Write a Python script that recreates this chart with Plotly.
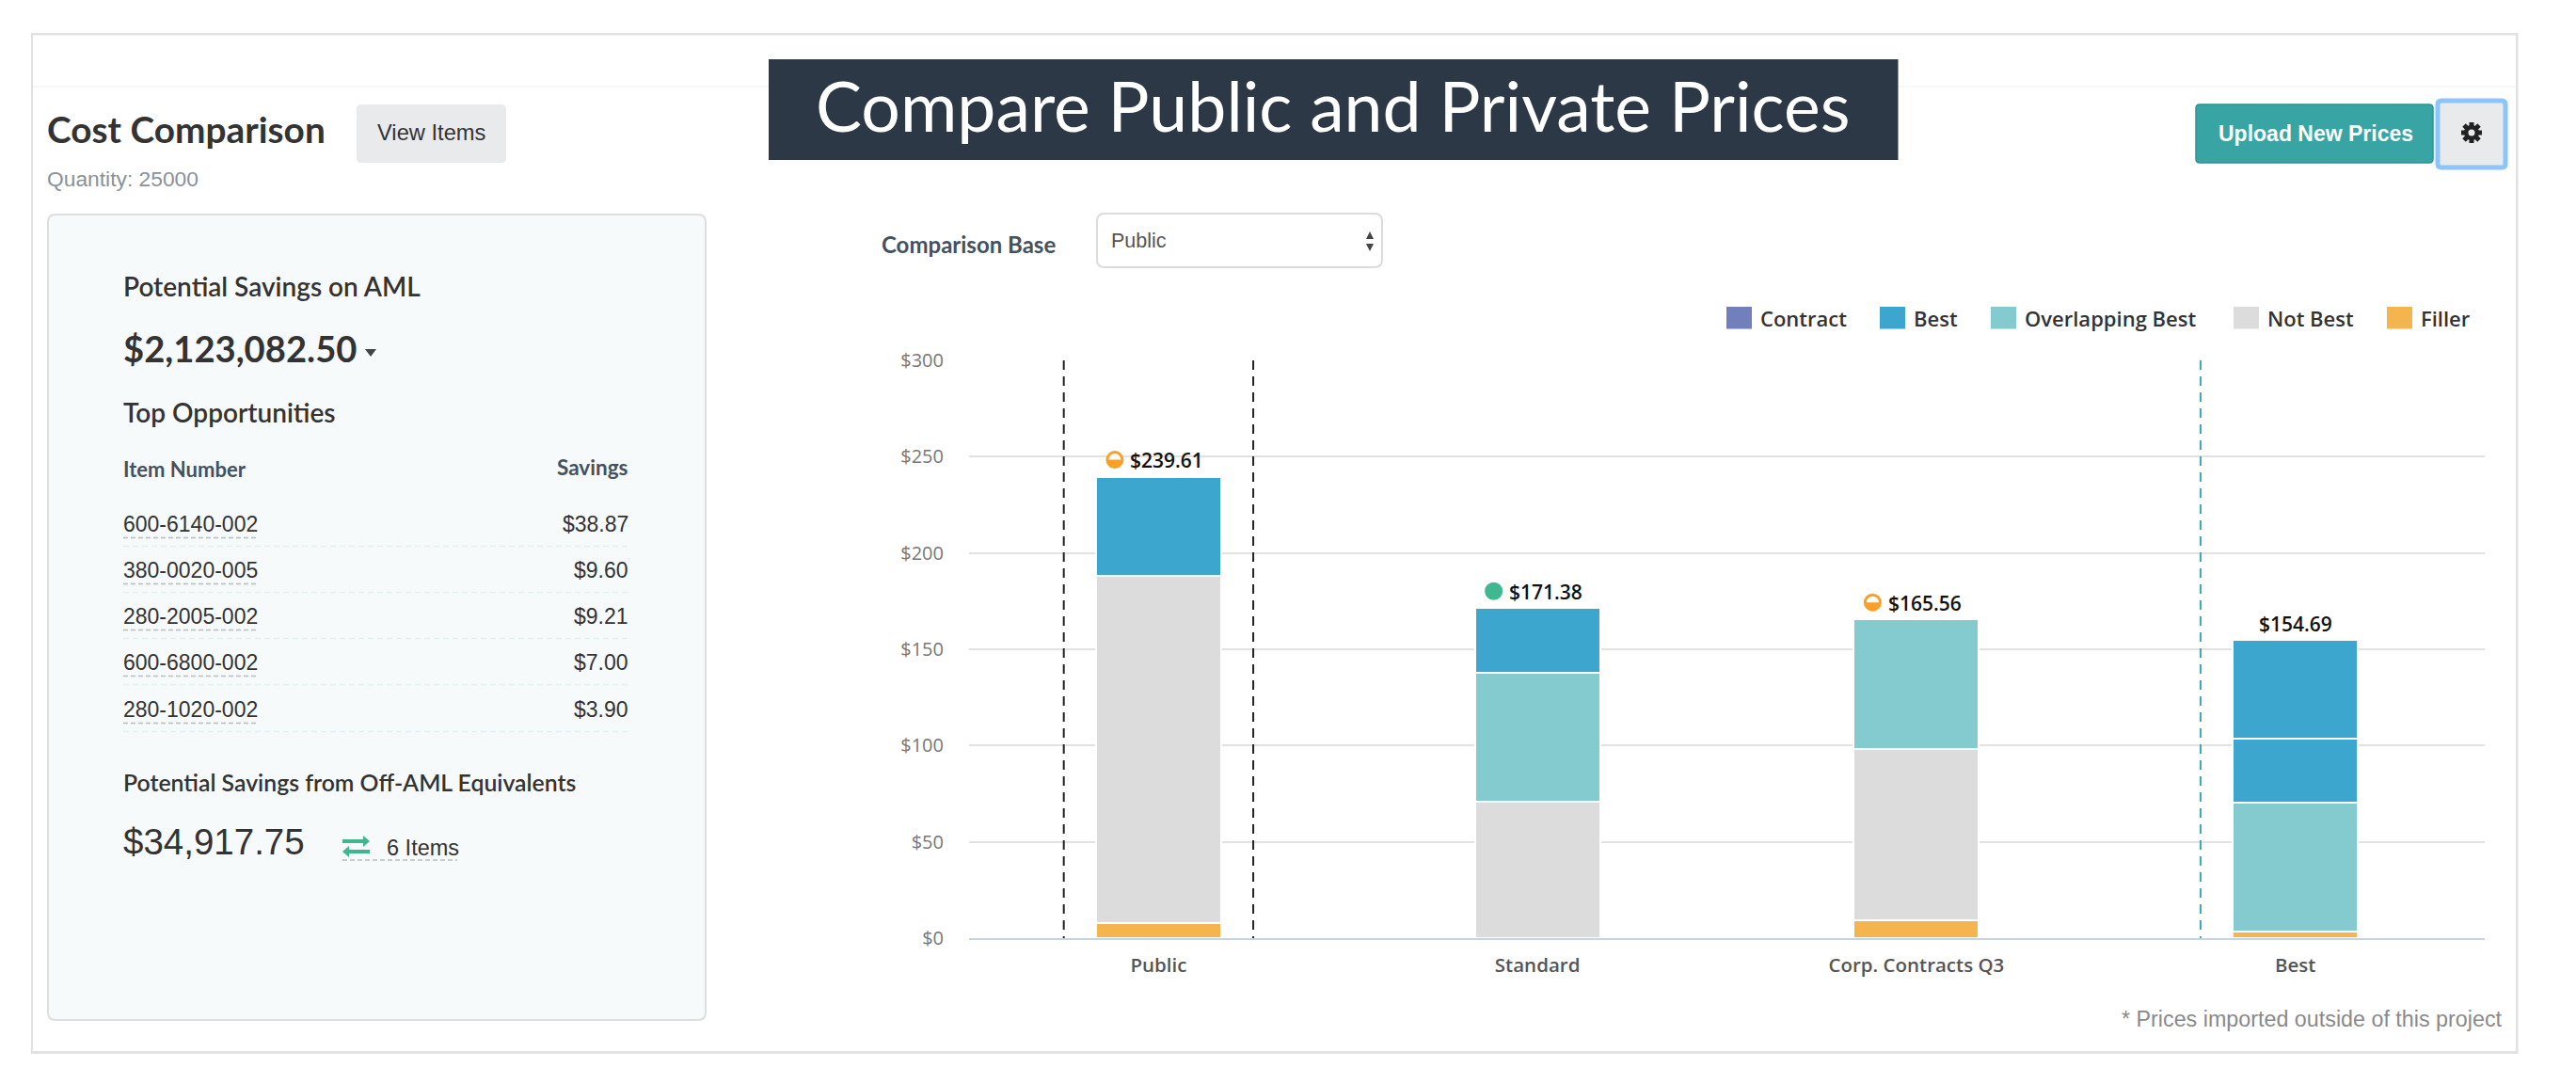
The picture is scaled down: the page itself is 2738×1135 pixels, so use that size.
import plotly.graph_objects as go

# ---- data ----
categories = ["Public", "Standard", "Corp. Contracts Q3", "Best"]
contract = [0, 0, 0, 0]
filler = [7.6, 0, 9.4, 3.6]
not_best = [180.4, 70.8, 88.6, 0]
overlapping_best = [0, 67.0, 67.56, 67.0]
best_lower = [51.61, 33.58, 0, 33.1]
best_upper = [0, 0, 0, 50.99]
total_labels = ["$239.61", "$171.38", "$165.56", "$154.69"]
totals = [239.61, 171.38, 165.56, 154.69]
status = ["half", "full", "half", None]
y_ticks = [0, 50, 100, 150, 200, 250, 300]
y_tick_labels = ["$0", "$50", "$100", "$150", "$200", "$250", "$300"]
legend_names = ["Contract", "Best", "Overlapping Best", "Not Best", "Filler"]
item_numbers = ["600-6140-002", "380-0020-005", "280-2005-002", "600-6800-002", "280-1020-002"]
item_savings = ["$38.87", "$9.60", "$9.21", "$7.00", "$3.90"]

# ---- style ----
C_CONTRACT, C_BEST, C_OVER, C_NOT, C_FILL = "#717fbd", "#3da6cf", "#83cbcf", "#dcdcdc", "#f5b54e"
W, H = 2738, 1135
PL, PR, PT, PB = 1030, 2641, 383, 997
LATO, ARIAL, OPEN = "Lato", "Liberation Sans", "Open Sans"
DARK = "#333333"


def px(x):
    return (x - PL) / (PR - PL)


def py(y):
    return (PB - y) / (PB - PT)


shapes, annos = [], []


def rect(x0, y0, x1, y1, fill, line=None, lw=1, layer="below"):
    shapes.append(dict(type="rect", xref="paper", yref="paper", x0=px(x0), x1=px(x1), y0=py(y0), y1=py(y1),
                       fillcolor=fill, line=dict(color=line or fill, width=lw if line else 0), layer=layer))


def rrect(x0, y0, x1, y1, r, fill, line=None, lw=1, layer="below"):
    p = (f"M{px(x0+r)},{py(y0)} L{px(x1-r)},{py(y0)} Q{px(x1)},{py(y0)} {px(x1)},{py(y0+r)} "
         f"L{px(x1)},{py(y1-r)} Q{px(x1)},{py(y1)} {px(x1-r)},{py(y1)} L{px(x0+r)},{py(y1)} "
         f"Q{px(x0)},{py(y1)} {px(x0)},{py(y1-r)} L{px(x0)},{py(y0+r)} Q{px(x0)},{py(y0)} {px(x0+r)},{py(y0)} Z")
    shapes.append(dict(type="path", xref="paper", yref="paper", path=p, fillcolor=fill,
                       line=dict(color=line or fill, width=lw if line else 0), layer=layer))


def hline(x0, x1, y, color, width=1.5, dash="solid", layer="below"):
    shapes.append(dict(type="line", xref="paper", yref="paper", x0=px(x0), x1=px(x1), y0=py(y), y1=py(y),
                       line=dict(color=color, width=width, dash=dash), layer=layer))


def seg(x0, y0, x1, y1, color, width):
    shapes.append(dict(type="line", xref="paper", yref="paper", x0=px(x0), x1=px(x1), y0=py(y0), y1=py(y1),
                       line=dict(color=color, width=width), layer="above"))


def disc(cx, cy, r, fill):
    shapes.append(dict(type="circle", xref="paper", yref="paper", x0=px(cx - r), x1=px(cx + r), y0=py(cy - r),
                       y1=py(cy + r), fillcolor=fill, line=dict(width=0), layer="above"))


def poly(pts, fill, layer="above"):
    p = "M" + " L".join(f"{px(a)},{py(b)}" for a, b in pts) + " Z"
    shapes.append(dict(type="path", xref="paper", yref="paper", path=p, fillcolor=fill, line=dict(width=0), layer=layer))


def text(x, y, s, size, color=DARK, family=LATO, anchor="left", weight=None):
    f = dict(size=size, color=color, family=family)
    if weight:
        f["weight"] = weight
    annos.append(dict(xref="paper", yref="paper", x=px(x), y=py(y), text=s, showarrow=False, xanchor=anchor,
                      yanchor="middle", font=f, borderpad=0, borderwidth=0))


# page card
rect(33, 35, 2676.5, 1120, "#e2e2e2")
rect(35, 37.5, 2674, 1117, "#ffffff")
hline(35, 2674, 92, "#f6f6f6", 1.5)

# title band
rect(817, 63, 2017.5, 170, "#2c3846")
text(1417, 112, "Compare Public and Private Prices", 73.4, "#ffffff", LATO, "center")

# header left
text(50, 137, "Cost Comparison", 38.8, "#333333", LATO, weight=700)
rrect(379, 111, 538, 173, 5, "#e9eaec")
text(458.5, 141, "View Items", 23.7, "#333333", ARIAL, "center")
text(50, 190, "Quantity: 25000", 22.8, "#8a9199", ARIAL)

# savings panel
rrect(51, 228, 750, 1084, 8, "#f7fafa", "#dcdfdf", 2)
text(131, 304, "Potential Savings on AML", 28, "#333333", LATO, weight=600)
text(131, 370, "$2,123,082.50", 38.2, "#333333", LATO, weight=700)
poly([(388, 371), (400, 371), (394, 379)], "#444444")
text(131, 438, "Top Opportunities", 28, "#333333", LATO, weight=600)
text(131, 498, "Item Number", 22, "#44525f", LATO, weight=700)
text(668, 496, "Savings", 22.5, "#44525f", LATO, "right", weight=700)
row_text_y = [557, 606, 655, 704, 754]
for n, s, y in zip(item_numbers, item_savings, row_text_y):
    text(131, y, n, 23, "#333333", ARIAL)
    text(668, y, s, 23, "#333333", ARIAL, "right")
    hline(131, 274, y + 14.5, "#b9bdbf", 1.5, "5px,3px")
    hline(131, 668, y + 23.5, "#dff1f6", 1.5, "6px,4px")
text(131, 831, "Potential Savings from Off-AML Equivalents", 24.8, "#333333", LATO, weight=600)
text(131, 894, "$34,917.75", 38.5, "#333333", ARIAL)
GREEN = "#3fb68e"
poly([(364, 892), (386, 892), (386, 888), (393, 894), (386, 900), (386, 896), (364, 896)], GREEN)
poly([(393, 903), (371, 903), (371, 899), (364, 905), (371, 911), (371, 907), (393, 907)], GREEN)
text(411, 901, "6 Items", 23.5, "#333333", ARIAL)
hline(364, 486, 914, "#b9bdbf", 1.5, "5px,3px")

# header right
rrect(2334, 111, 2586, 173, 4, "#38a4a4", "#2b9494", 1.5)
text(2461, 142, "Upload New Prices", 23, "#ffffff", ARIAL, "center", weight=700)
rrect(2591, 107, 2663, 178, 4, "#e9eaec", "#8cc4fb", 5)
# gear glyph
GX, GY = 2627, 141
for dx, dy in ((11, 0), (0, 11), (8, 8), (8, -8)):
    seg(GX - dx, GY - dy, GX + dx, GY + dy, "#222222", 5)
disc(GX, GY, 8, "#222222")
disc(GX, GY, 3.5, "#e9eaec")

# comparison base control
text(937, 260, "Comparison Base", 24, "#44525f", LATO, weight=700)
rrect(1166, 227, 1469, 284, 8, "#ffffff", "#dcdcdc", 2)
text(1181, 256, "Public", 21.5, "#555555", ARIAL)
poly([(1452, 254), (1460, 254), (1456, 246)], "#444444")
poly([(1452, 259), (1460, 259), (1456, 267)], "#444444")

# legend
legend_colors = [C_CONTRACT, C_BEST, C_OVER, C_NOT, C_FILL]
legend_x = [1835, 1998, 2116, 2374, 2537]
for n, c, x in zip(legend_names, legend_colors, legend_x):
    rect(x, 326, x + 27, 349.5, c)
    text(x + 36, 338, n, 22, "#333333", OPEN, weight=600)

# footnote
text(2660, 1083, "* Prices imported outside of this project", 23.3, "#8a8a8a", ARIAL, "right")

# dashed reference lines
for xv, col in ((-0.25, "#222222"), (0.25, "#222222"), (2.75, "#3fa5bd")):
    shapes.append(dict(type="line", xref="x", yref="y", x0=xv, x1=xv, y0=300, y1=0,
                       line=dict(color=col, width=2, dash="10px,7px"), layer="above"))

# total labels and status icons
ORANGE, TEAL = "#f99f2a", "#3fb891"
for i, (lab, tot, st) in enumerate(zip(total_labels, totals, status)):
    annos.append(dict(xref="x", yref="y", x=i, y=tot, text=lab, showarrow=False, xanchor="center", yanchor="middle",
                      xshift=9 if st else 0, yshift=17.5, font=dict(size=21, color="#111111", family=OPEN, weight=600),
                      borderpad=0))
    if st:
        base = dict(xref="x", yref="y", xsizemode="pixel", ysizemode="pixel", xanchor=i, yanchor=tot, layer="above")
        cx, cy, r = -46.5, 18, 8
        if st == "full":
            shapes.append(dict(type="circle", x0=cx - r - 1.5, x1=cx + r + 1.5, y0=cy - r - 1.5, y1=cy + r + 1.5,
                               fillcolor=TEAL, line=dict(width=0), **base))
        else:
            k = 0.55 * r
            shapes.append(dict(type="circle", x0=cx - r, x1=cx + r, y0=cy - r, y1=cy + r,
                               fillcolor="#ffffff", line=dict(color=ORANGE, width=3), **base))
            shapes.append(dict(type="path",
                               path=(f"M{cx-r},{cy} C{cx-r},{cy-k} {cx-k},{cy-r} {cx},{cy-r} "
                                     f"C{cx+k},{cy-r} {cx+r},{cy-k} {cx+r},{cy} Z"),
                               fillcolor=ORANGE, line=dict(width=0), **base))

# bars
fig = go.Figure()
series = [("Contract", contract, C_CONTRACT), ("Filler", filler, C_FILL), ("Not Best", not_best, C_NOT),
          ("Overlapping Best", overlapping_best, C_OVER), ("Best", best_lower, C_BEST), ("Best (2)", best_upper, C_BEST)]
for name, vals, col in series:
    fig.add_trace(go.Bar(x=categories, y=vals, name=name, width=0.33,
                         marker=dict(color=col, line=dict(color="#ffffff", width=2))))

fig.update_layout(
    width=W, height=H, autosize=False, barmode="stack", showlegend=False,
    margin=dict(l=PL, r=W - PR, t=PT, b=H - PB, pad=0),
    paper_bgcolor="#ffffff", plot_bgcolor="rgba(0,0,0,0)",
    shapes=shapes, annotations=annos,
    xaxis=dict(type="category", range=[-0.5, 3.5], showgrid=False, showline=True, linecolor="#c5d3e3", linewidth=2,
               ticks="", ticklabelstandoff=9, tickfont=dict(family=OPEN, size=20.5, color="#555555", weight=600)),
    yaxis=dict(range=[0, 300], tickmode="array", tickvals=y_ticks, ticktext=y_tick_labels, showgrid=True,
               gridcolor="#e2e2e2", gridwidth=2, zeroline=False, showline=False, ticks="", ticklabelstandoff=26,
               tickfont=dict(family=OPEN, size=20, color="#777777")),
)

fig.write_html("out.html", config=dict(displayModeBar=False),
               post_script="document.body.style.margin='0';document.body.style.overflow='hidden';")
